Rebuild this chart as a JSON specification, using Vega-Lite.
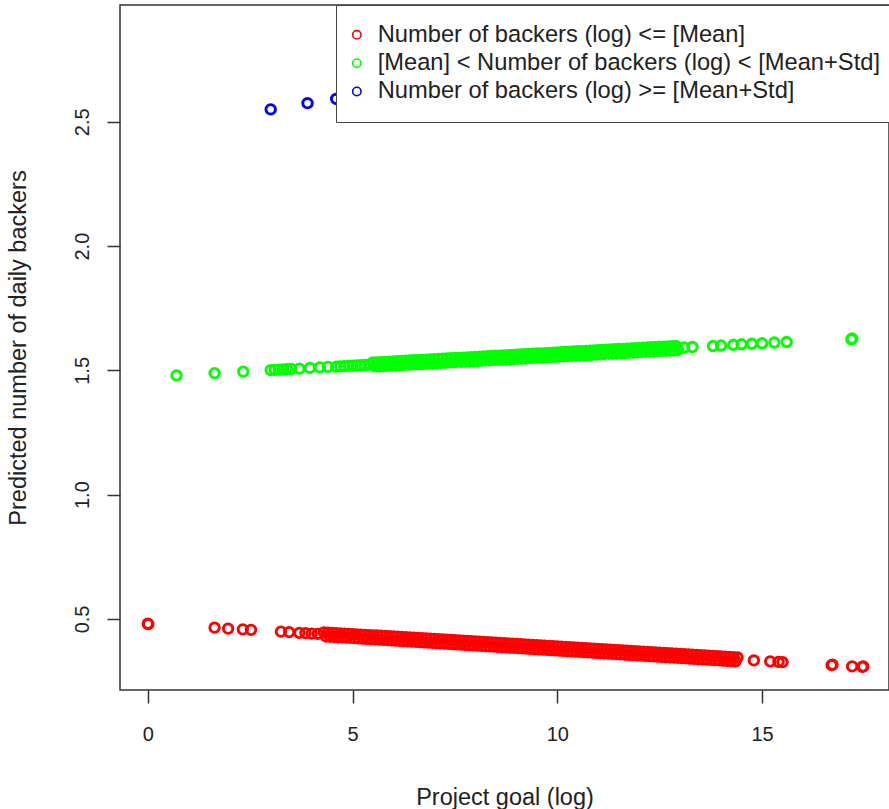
{
  "$schema": "https://vega.github.io/schema/vega-lite/v6.json",
  "width": 769,
  "height": 685,
  "autosize": {"type": "none"},
  "padding": {"left": 120, "top": 5, "right": 0, "bottom": 119},
  "background": "white",
  "config": {
    "view": {"stroke": "#333333", "strokeWidth": 1.5},
    "font": "Liberation Sans"
  },
  "datasets": {
    "groups": [
      {"grp": "low", "label": "Number of backers (log) <= [Mean]"},
      {"grp": "mid", "label": "[Mean] < Number of backers (log) < [Mean+Std]"},
      {"grp": "high", "label": "Number of backers (log) >= [Mean+Std]"}
    ],
    "points": [
      {"goal": 0, "pred": 0.481, "grp": "low"},
      {"goal": 0.01, "pred": 0.479, "grp": "low"},
      {"goal": 1.63, "pred": 0.465, "grp": "low"},
      {"goal": 1.96, "pred": 0.461, "grp": "low"},
      {"goal": 2.32, "pred": 0.458, "grp": "low"},
      {"goal": 2.52, "pred": 0.456, "grp": "low"},
      {"goal": 3.25, "pred": 0.449, "grp": "low"},
      {"goal": 3.45, "pred": 0.447, "grp": "low"},
      {"goal": 3.7, "pred": 0.444, "grp": "low"},
      {"goal": 3.85, "pred": 0.443, "grp": "low"},
      {"goal": 4.0, "pred": 0.441, "grp": "low"},
      {"goal": 4.15, "pred": 0.44, "grp": "low"},
      {"goal": 4.3, "pred": 0.446, "grp": "low"},
      {"goal": 4.4, "pred": 0.445, "grp": "low"},
      {"goal": 4.5, "pred": 0.444, "grp": "low"},
      {"goal": 4.6, "pred": 0.443, "grp": "low"},
      {"goal": 4.7, "pred": 0.442, "grp": "low"},
      {"goal": 4.8, "pred": 0.441, "grp": "low"},
      {"goal": 4.9, "pred": 0.44, "grp": "low"},
      {"goal": 5.0, "pred": 0.439, "grp": "low"},
      {"goal": 5.1, "pred": 0.438, "grp": "low"},
      {"goal": 5.2, "pred": 0.437, "grp": "low"},
      {"goal": 5.3, "pred": 0.436, "grp": "low"},
      {"goal": 5.4, "pred": 0.435, "grp": "low"},
      {"goal": 5.5, "pred": 0.434, "grp": "low"},
      {"goal": 5.6, "pred": 0.433, "grp": "low"},
      {"goal": 5.7, "pred": 0.432, "grp": "low"},
      {"goal": 5.8, "pred": 0.431, "grp": "low"},
      {"goal": 5.9, "pred": 0.43, "grp": "low"},
      {"goal": 6.0, "pred": 0.429, "grp": "low"},
      {"goal": 6.1, "pred": 0.428, "grp": "low"},
      {"goal": 6.2, "pred": 0.427, "grp": "low"},
      {"goal": 6.3, "pred": 0.426, "grp": "low"},
      {"goal": 6.4, "pred": 0.425, "grp": "low"},
      {"goal": 6.5, "pred": 0.424, "grp": "low"},
      {"goal": 6.6, "pred": 0.423, "grp": "low"},
      {"goal": 6.7, "pred": 0.422, "grp": "low"},
      {"goal": 6.8, "pred": 0.421, "grp": "low"},
      {"goal": 6.9, "pred": 0.42, "grp": "low"},
      {"goal": 7.0, "pred": 0.419, "grp": "low"},
      {"goal": 7.1, "pred": 0.418, "grp": "low"},
      {"goal": 7.2, "pred": 0.417, "grp": "low"},
      {"goal": 7.3, "pred": 0.416, "grp": "low"},
      {"goal": 7.4, "pred": 0.415, "grp": "low"},
      {"goal": 7.5, "pred": 0.414, "grp": "low"},
      {"goal": 7.6, "pred": 0.413, "grp": "low"},
      {"goal": 7.7, "pred": 0.412, "grp": "low"},
      {"goal": 7.8, "pred": 0.411, "grp": "low"},
      {"goal": 7.9, "pred": 0.41, "grp": "low"},
      {"goal": 8.0, "pred": 0.409, "grp": "low"},
      {"goal": 8.1, "pred": 0.408, "grp": "low"},
      {"goal": 8.2, "pred": 0.407, "grp": "low"},
      {"goal": 8.3, "pred": 0.406, "grp": "low"},
      {"goal": 8.4, "pred": 0.405, "grp": "low"},
      {"goal": 8.5, "pred": 0.404, "grp": "low"},
      {"goal": 8.6, "pred": 0.403, "grp": "low"},
      {"goal": 8.7, "pred": 0.402, "grp": "low"},
      {"goal": 8.8, "pred": 0.401, "grp": "low"},
      {"goal": 8.9, "pred": 0.4, "grp": "low"},
      {"goal": 9.0, "pred": 0.399, "grp": "low"},
      {"goal": 9.1, "pred": 0.398, "grp": "low"},
      {"goal": 9.2, "pred": 0.397, "grp": "low"},
      {"goal": 9.3, "pred": 0.396, "grp": "low"},
      {"goal": 9.4, "pred": 0.395, "grp": "low"},
      {"goal": 9.5, "pred": 0.394, "grp": "low"},
      {"goal": 9.6, "pred": 0.393, "grp": "low"},
      {"goal": 9.7, "pred": 0.392, "grp": "low"},
      {"goal": 9.8, "pred": 0.391, "grp": "low"},
      {"goal": 9.9, "pred": 0.39, "grp": "low"},
      {"goal": 10.0, "pred": 0.389, "grp": "low"},
      {"goal": 10.1, "pred": 0.388, "grp": "low"},
      {"goal": 10.2, "pred": 0.387, "grp": "low"},
      {"goal": 10.3, "pred": 0.386, "grp": "low"},
      {"goal": 10.4, "pred": 0.385, "grp": "low"},
      {"goal": 10.5, "pred": 0.384, "grp": "low"},
      {"goal": 10.6, "pred": 0.383, "grp": "low"},
      {"goal": 10.7, "pred": 0.382, "grp": "low"},
      {"goal": 10.8, "pred": 0.381, "grp": "low"},
      {"goal": 10.9, "pred": 0.38, "grp": "low"},
      {"goal": 11.0, "pred": 0.379, "grp": "low"},
      {"goal": 11.1, "pred": 0.378, "grp": "low"},
      {"goal": 11.2, "pred": 0.377, "grp": "low"},
      {"goal": 11.3, "pred": 0.376, "grp": "low"},
      {"goal": 11.4, "pred": 0.375, "grp": "low"},
      {"goal": 11.5, "pred": 0.374, "grp": "low"},
      {"goal": 11.6, "pred": 0.373, "grp": "low"},
      {"goal": 11.7, "pred": 0.372, "grp": "low"},
      {"goal": 11.8, "pred": 0.371, "grp": "low"},
      {"goal": 11.9, "pred": 0.37, "grp": "low"},
      {"goal": 12.0, "pred": 0.369, "grp": "low"},
      {"goal": 12.1, "pred": 0.368, "grp": "low"},
      {"goal": 12.2, "pred": 0.367, "grp": "low"},
      {"goal": 12.3, "pred": 0.366, "grp": "low"},
      {"goal": 12.4, "pred": 0.365, "grp": "low"},
      {"goal": 12.5, "pred": 0.364, "grp": "low"},
      {"goal": 12.6, "pred": 0.363, "grp": "low"},
      {"goal": 12.7, "pred": 0.362, "grp": "low"},
      {"goal": 12.8, "pred": 0.361, "grp": "low"},
      {"goal": 12.9, "pred": 0.36, "grp": "low"},
      {"goal": 13.0, "pred": 0.359, "grp": "low"},
      {"goal": 13.1, "pred": 0.358, "grp": "low"},
      {"goal": 13.2, "pred": 0.357, "grp": "low"},
      {"goal": 13.3, "pred": 0.356, "grp": "low"},
      {"goal": 13.4, "pred": 0.355, "grp": "low"},
      {"goal": 13.5, "pred": 0.354, "grp": "low"},
      {"goal": 13.6, "pred": 0.353, "grp": "low"},
      {"goal": 13.7, "pred": 0.352, "grp": "low"},
      {"goal": 13.8, "pred": 0.351, "grp": "low"},
      {"goal": 13.9, "pred": 0.35, "grp": "low"},
      {"goal": 14.0, "pred": 0.349, "grp": "low"},
      {"goal": 14.1, "pred": 0.348, "grp": "low"},
      {"goal": 14.2, "pred": 0.347, "grp": "low"},
      {"goal": 14.3, "pred": 0.346, "grp": "low"},
      {"goal": 14.4, "pred": 0.345, "grp": "low"},
      {"goal": 4.35, "pred": 0.4295, "grp": "low"},
      {"goal": 4.45, "pred": 0.4285, "grp": "low"},
      {"goal": 4.55, "pred": 0.4275, "grp": "low"},
      {"goal": 4.65, "pred": 0.4265, "grp": "low"},
      {"goal": 4.75, "pred": 0.4255, "grp": "low"},
      {"goal": 4.85, "pred": 0.4245, "grp": "low"},
      {"goal": 4.95, "pred": 0.4235, "grp": "low"},
      {"goal": 5.05, "pred": 0.4225, "grp": "low"},
      {"goal": 5.15, "pred": 0.4215, "grp": "low"},
      {"goal": 5.25, "pred": 0.4205, "grp": "low"},
      {"goal": 5.35, "pred": 0.4195, "grp": "low"},
      {"goal": 5.45, "pred": 0.4185, "grp": "low"},
      {"goal": 5.55, "pred": 0.4175, "grp": "low"},
      {"goal": 5.65, "pred": 0.4165, "grp": "low"},
      {"goal": 5.75, "pred": 0.4155, "grp": "low"},
      {"goal": 5.85, "pred": 0.4145, "grp": "low"},
      {"goal": 5.95, "pred": 0.4135, "grp": "low"},
      {"goal": 6.05, "pred": 0.4125, "grp": "low"},
      {"goal": 6.15, "pred": 0.4115, "grp": "low"},
      {"goal": 6.25, "pred": 0.4105, "grp": "low"},
      {"goal": 6.35, "pred": 0.4095, "grp": "low"},
      {"goal": 6.45, "pred": 0.4085, "grp": "low"},
      {"goal": 6.55, "pred": 0.4075, "grp": "low"},
      {"goal": 6.65, "pred": 0.4065, "grp": "low"},
      {"goal": 6.75, "pred": 0.4055, "grp": "low"},
      {"goal": 6.85, "pred": 0.4045, "grp": "low"},
      {"goal": 6.95, "pred": 0.4035, "grp": "low"},
      {"goal": 7.05, "pred": 0.4025, "grp": "low"},
      {"goal": 7.15, "pred": 0.4015, "grp": "low"},
      {"goal": 7.25, "pred": 0.4005, "grp": "low"},
      {"goal": 7.35, "pred": 0.3995, "grp": "low"},
      {"goal": 7.45, "pred": 0.3985, "grp": "low"},
      {"goal": 7.55, "pred": 0.3975, "grp": "low"},
      {"goal": 7.65, "pred": 0.3965, "grp": "low"},
      {"goal": 7.75, "pred": 0.3955, "grp": "low"},
      {"goal": 7.85, "pred": 0.3945, "grp": "low"},
      {"goal": 7.95, "pred": 0.3935, "grp": "low"},
      {"goal": 8.05, "pred": 0.3925, "grp": "low"},
      {"goal": 8.15, "pred": 0.3915, "grp": "low"},
      {"goal": 8.25, "pred": 0.3905, "grp": "low"},
      {"goal": 8.35, "pred": 0.3895, "grp": "low"},
      {"goal": 8.45, "pred": 0.3885, "grp": "low"},
      {"goal": 8.55, "pred": 0.3875, "grp": "low"},
      {"goal": 8.65, "pred": 0.3865, "grp": "low"},
      {"goal": 8.75, "pred": 0.3855, "grp": "low"},
      {"goal": 8.85, "pred": 0.3845, "grp": "low"},
      {"goal": 8.95, "pred": 0.3835, "grp": "low"},
      {"goal": 9.05, "pred": 0.3825, "grp": "low"},
      {"goal": 9.15, "pred": 0.3815, "grp": "low"},
      {"goal": 9.25, "pred": 0.3805, "grp": "low"},
      {"goal": 9.35, "pred": 0.3795, "grp": "low"},
      {"goal": 9.45, "pred": 0.3785, "grp": "low"},
      {"goal": 9.55, "pred": 0.3775, "grp": "low"},
      {"goal": 9.65, "pred": 0.3765, "grp": "low"},
      {"goal": 9.75, "pred": 0.3755, "grp": "low"},
      {"goal": 9.85, "pred": 0.3745, "grp": "low"},
      {"goal": 9.95, "pred": 0.3735, "grp": "low"},
      {"goal": 10.05, "pred": 0.3725, "grp": "low"},
      {"goal": 10.15, "pred": 0.3715, "grp": "low"},
      {"goal": 10.25, "pred": 0.3705, "grp": "low"},
      {"goal": 10.35, "pred": 0.3695, "grp": "low"},
      {"goal": 10.45, "pred": 0.3685, "grp": "low"},
      {"goal": 10.55, "pred": 0.3675, "grp": "low"},
      {"goal": 10.65, "pred": 0.3665, "grp": "low"},
      {"goal": 10.75, "pred": 0.3655, "grp": "low"},
      {"goal": 10.85, "pred": 0.3645, "grp": "low"},
      {"goal": 10.95, "pred": 0.3635, "grp": "low"},
      {"goal": 11.05, "pred": 0.3625, "grp": "low"},
      {"goal": 11.15, "pred": 0.3615, "grp": "low"},
      {"goal": 11.25, "pred": 0.3605, "grp": "low"},
      {"goal": 11.35, "pred": 0.3595, "grp": "low"},
      {"goal": 11.45, "pred": 0.3585, "grp": "low"},
      {"goal": 11.55, "pred": 0.3575, "grp": "low"},
      {"goal": 11.65, "pred": 0.3565, "grp": "low"},
      {"goal": 11.75, "pred": 0.3555, "grp": "low"},
      {"goal": 11.85, "pred": 0.3545, "grp": "low"},
      {"goal": 11.95, "pred": 0.3535, "grp": "low"},
      {"goal": 12.05, "pred": 0.3525, "grp": "low"},
      {"goal": 12.15, "pred": 0.3515, "grp": "low"},
      {"goal": 12.25, "pred": 0.3505, "grp": "low"},
      {"goal": 12.35, "pred": 0.3495, "grp": "low"},
      {"goal": 12.45, "pred": 0.3485, "grp": "low"},
      {"goal": 12.55, "pred": 0.3475, "grp": "low"},
      {"goal": 12.65, "pred": 0.3465, "grp": "low"},
      {"goal": 12.75, "pred": 0.3455, "grp": "low"},
      {"goal": 12.85, "pred": 0.3445, "grp": "low"},
      {"goal": 12.95, "pred": 0.3435, "grp": "low"},
      {"goal": 13.05, "pred": 0.3425, "grp": "low"},
      {"goal": 13.15, "pred": 0.3415, "grp": "low"},
      {"goal": 13.25, "pred": 0.3405, "grp": "low"},
      {"goal": 13.35, "pred": 0.3395, "grp": "low"},
      {"goal": 13.45, "pred": 0.3385, "grp": "low"},
      {"goal": 13.55, "pred": 0.3375, "grp": "low"},
      {"goal": 13.65, "pred": 0.3365, "grp": "low"},
      {"goal": 13.75, "pred": 0.3355, "grp": "low"},
      {"goal": 13.85, "pred": 0.3345, "grp": "low"},
      {"goal": 13.95, "pred": 0.3335, "grp": "low"},
      {"goal": 14.05, "pred": 0.3325, "grp": "low"},
      {"goal": 14.15, "pred": 0.3315, "grp": "low"},
      {"goal": 14.25, "pred": 0.3305, "grp": "low"},
      {"goal": 14.35, "pred": 0.3295, "grp": "low"},
      {"goal": 14.8, "pred": 0.333, "grp": "low"},
      {"goal": 15.2, "pred": 0.329, "grp": "low"},
      {"goal": 15.4, "pred": 0.327, "grp": "low"},
      {"goal": 15.5, "pred": 0.326, "grp": "low"},
      {"goal": 16.7, "pred": 0.314, "grp": "low"},
      {"goal": 16.72, "pred": 0.316, "grp": "low"},
      {"goal": 17.2, "pred": 0.309, "grp": "low"},
      {"goal": 17.45, "pred": 0.307, "grp": "low"},
      {"goal": 17.47, "pred": 0.309, "grp": "low"},
      {"goal": 0.7, "pred": 1.48, "grp": "mid"},
      {"goal": 1.63, "pred": 1.489, "grp": "mid"},
      {"goal": 2.33, "pred": 1.495, "grp": "mid"},
      {"goal": 3.0, "pred": 1.501, "grp": "mid"},
      {"goal": 3.1, "pred": 1.502, "grp": "mid"},
      {"goal": 3.2, "pred": 1.503, "grp": "mid"},
      {"goal": 3.3, "pred": 1.504, "grp": "mid"},
      {"goal": 3.4, "pred": 1.505, "grp": "mid"},
      {"goal": 3.5, "pred": 1.506, "grp": "mid"},
      {"goal": 3.7, "pred": 1.507, "grp": "mid"},
      {"goal": 3.96, "pred": 1.51, "grp": "mid"},
      {"goal": 4.2, "pred": 1.512, "grp": "mid"},
      {"goal": 4.4, "pred": 1.514, "grp": "mid"},
      {"goal": 4.6, "pred": 1.515, "grp": "mid"},
      {"goal": 4.7, "pred": 1.516, "grp": "mid"},
      {"goal": 4.8, "pred": 1.517, "grp": "mid"},
      {"goal": 4.9, "pred": 1.518, "grp": "mid"},
      {"goal": 5.0, "pred": 1.519, "grp": "mid"},
      {"goal": 5.1, "pred": 1.52, "grp": "mid"},
      {"goal": 5.2, "pred": 1.521, "grp": "mid"},
      {"goal": 5.3, "pred": 1.522, "grp": "mid"},
      {"goal": 5.4, "pred": 1.523, "grp": "mid"},
      {"goal": 5.5, "pred": 1.532, "grp": "mid"},
      {"goal": 5.6, "pred": 1.532, "grp": "mid"},
      {"goal": 5.7, "pred": 1.533, "grp": "mid"},
      {"goal": 5.8, "pred": 1.534, "grp": "mid"},
      {"goal": 5.9, "pred": 1.535, "grp": "mid"},
      {"goal": 6.0, "pred": 1.536, "grp": "mid"},
      {"goal": 6.1, "pred": 1.537, "grp": "mid"},
      {"goal": 6.2, "pred": 1.538, "grp": "mid"},
      {"goal": 6.3, "pred": 1.539, "grp": "mid"},
      {"goal": 6.4, "pred": 1.54, "grp": "mid"},
      {"goal": 6.5, "pred": 1.541, "grp": "mid"},
      {"goal": 6.6, "pred": 1.541, "grp": "mid"},
      {"goal": 6.7, "pred": 1.542, "grp": "mid"},
      {"goal": 6.8, "pred": 1.543, "grp": "mid"},
      {"goal": 6.9, "pred": 1.544, "grp": "mid"},
      {"goal": 7.0, "pred": 1.545, "grp": "mid"},
      {"goal": 7.1, "pred": 1.546, "grp": "mid"},
      {"goal": 7.2, "pred": 1.547, "grp": "mid"},
      {"goal": 7.3, "pred": 1.548, "grp": "mid"},
      {"goal": 7.4, "pred": 1.549, "grp": "mid"},
      {"goal": 7.5, "pred": 1.55, "grp": "mid"},
      {"goal": 7.6, "pred": 1.55, "grp": "mid"},
      {"goal": 7.7, "pred": 1.551, "grp": "mid"},
      {"goal": 7.8, "pred": 1.552, "grp": "mid"},
      {"goal": 7.9, "pred": 1.553, "grp": "mid"},
      {"goal": 8.0, "pred": 1.554, "grp": "mid"},
      {"goal": 8.1, "pred": 1.555, "grp": "mid"},
      {"goal": 8.2, "pred": 1.556, "grp": "mid"},
      {"goal": 8.3, "pred": 1.557, "grp": "mid"},
      {"goal": 8.4, "pred": 1.558, "grp": "mid"},
      {"goal": 8.5, "pred": 1.559, "grp": "mid"},
      {"goal": 8.6, "pred": 1.559, "grp": "mid"},
      {"goal": 8.7, "pred": 1.56, "grp": "mid"},
      {"goal": 8.8, "pred": 1.561, "grp": "mid"},
      {"goal": 8.9, "pred": 1.562, "grp": "mid"},
      {"goal": 9.0, "pred": 1.563, "grp": "mid"},
      {"goal": 9.1, "pred": 1.564, "grp": "mid"},
      {"goal": 9.2, "pred": 1.565, "grp": "mid"},
      {"goal": 9.3, "pred": 1.566, "grp": "mid"},
      {"goal": 9.4, "pred": 1.567, "grp": "mid"},
      {"goal": 9.5, "pred": 1.568, "grp": "mid"},
      {"goal": 9.6, "pred": 1.568, "grp": "mid"},
      {"goal": 9.7, "pred": 1.569, "grp": "mid"},
      {"goal": 9.8, "pred": 1.57, "grp": "mid"},
      {"goal": 9.9, "pred": 1.571, "grp": "mid"},
      {"goal": 10.0, "pred": 1.572, "grp": "mid"},
      {"goal": 10.1, "pred": 1.573, "grp": "mid"},
      {"goal": 10.2, "pred": 1.574, "grp": "mid"},
      {"goal": 10.3, "pred": 1.575, "grp": "mid"},
      {"goal": 10.4, "pred": 1.576, "grp": "mid"},
      {"goal": 10.5, "pred": 1.577, "grp": "mid"},
      {"goal": 10.6, "pred": 1.577, "grp": "mid"},
      {"goal": 10.7, "pred": 1.578, "grp": "mid"},
      {"goal": 10.8, "pred": 1.579, "grp": "mid"},
      {"goal": 10.9, "pred": 1.58, "grp": "mid"},
      {"goal": 11.0, "pred": 1.581, "grp": "mid"},
      {"goal": 11.1, "pred": 1.582, "grp": "mid"},
      {"goal": 11.2, "pred": 1.583, "grp": "mid"},
      {"goal": 11.3, "pred": 1.584, "grp": "mid"},
      {"goal": 11.4, "pred": 1.585, "grp": "mid"},
      {"goal": 11.5, "pred": 1.586, "grp": "mid"},
      {"goal": 11.6, "pred": 1.586, "grp": "mid"},
      {"goal": 11.7, "pred": 1.587, "grp": "mid"},
      {"goal": 11.8, "pred": 1.588, "grp": "mid"},
      {"goal": 11.9, "pred": 1.589, "grp": "mid"},
      {"goal": 12.0, "pred": 1.59, "grp": "mid"},
      {"goal": 12.1, "pred": 1.591, "grp": "mid"},
      {"goal": 12.2, "pred": 1.592, "grp": "mid"},
      {"goal": 12.3, "pred": 1.593, "grp": "mid"},
      {"goal": 12.4, "pred": 1.594, "grp": "mid"},
      {"goal": 12.5, "pred": 1.595, "grp": "mid"},
      {"goal": 12.6, "pred": 1.595, "grp": "mid"},
      {"goal": 12.7, "pred": 1.596, "grp": "mid"},
      {"goal": 12.8, "pred": 1.597, "grp": "mid"},
      {"goal": 12.9, "pred": 1.598, "grp": "mid"},
      {"goal": 5.55, "pred": 1.516, "grp": "mid"},
      {"goal": 5.65, "pred": 1.516, "grp": "mid"},
      {"goal": 5.75, "pred": 1.517, "grp": "mid"},
      {"goal": 5.85, "pred": 1.518, "grp": "mid"},
      {"goal": 5.95, "pred": 1.519, "grp": "mid"},
      {"goal": 6.05, "pred": 1.52, "grp": "mid"},
      {"goal": 6.15, "pred": 1.521, "grp": "mid"},
      {"goal": 6.25, "pred": 1.522, "grp": "mid"},
      {"goal": 6.35, "pred": 1.523, "grp": "mid"},
      {"goal": 6.45, "pred": 1.524, "grp": "mid"},
      {"goal": 6.55, "pred": 1.525, "grp": "mid"},
      {"goal": 6.65, "pred": 1.525, "grp": "mid"},
      {"goal": 6.75, "pred": 1.526, "grp": "mid"},
      {"goal": 6.85, "pred": 1.527, "grp": "mid"},
      {"goal": 6.95, "pred": 1.528, "grp": "mid"},
      {"goal": 7.05, "pred": 1.529, "grp": "mid"},
      {"goal": 7.15, "pred": 1.53, "grp": "mid"},
      {"goal": 7.25, "pred": 1.531, "grp": "mid"},
      {"goal": 7.35, "pred": 1.532, "grp": "mid"},
      {"goal": 7.45, "pred": 1.533, "grp": "mid"},
      {"goal": 7.55, "pred": 1.534, "grp": "mid"},
      {"goal": 7.65, "pred": 1.534, "grp": "mid"},
      {"goal": 7.75, "pred": 1.535, "grp": "mid"},
      {"goal": 7.85, "pred": 1.536, "grp": "mid"},
      {"goal": 7.95, "pred": 1.537, "grp": "mid"},
      {"goal": 8.05, "pred": 1.538, "grp": "mid"},
      {"goal": 8.15, "pred": 1.539, "grp": "mid"},
      {"goal": 8.25, "pred": 1.54, "grp": "mid"},
      {"goal": 8.35, "pred": 1.541, "grp": "mid"},
      {"goal": 8.45, "pred": 1.542, "grp": "mid"},
      {"goal": 8.55, "pred": 1.543, "grp": "mid"},
      {"goal": 8.65, "pred": 1.543, "grp": "mid"},
      {"goal": 8.75, "pred": 1.544, "grp": "mid"},
      {"goal": 8.85, "pred": 1.545, "grp": "mid"},
      {"goal": 8.95, "pred": 1.546, "grp": "mid"},
      {"goal": 9.05, "pred": 1.547, "grp": "mid"},
      {"goal": 9.15, "pred": 1.548, "grp": "mid"},
      {"goal": 9.25, "pred": 1.549, "grp": "mid"},
      {"goal": 9.35, "pred": 1.55, "grp": "mid"},
      {"goal": 9.45, "pred": 1.551, "grp": "mid"},
      {"goal": 9.55, "pred": 1.552, "grp": "mid"},
      {"goal": 9.65, "pred": 1.552, "grp": "mid"},
      {"goal": 9.75, "pred": 1.553, "grp": "mid"},
      {"goal": 9.85, "pred": 1.554, "grp": "mid"},
      {"goal": 9.95, "pred": 1.555, "grp": "mid"},
      {"goal": 10.05, "pred": 1.556, "grp": "mid"},
      {"goal": 10.15, "pred": 1.557, "grp": "mid"},
      {"goal": 10.25, "pred": 1.558, "grp": "mid"},
      {"goal": 10.35, "pred": 1.559, "grp": "mid"},
      {"goal": 10.45, "pred": 1.56, "grp": "mid"},
      {"goal": 10.55, "pred": 1.561, "grp": "mid"},
      {"goal": 10.65, "pred": 1.561, "grp": "mid"},
      {"goal": 10.75, "pred": 1.562, "grp": "mid"},
      {"goal": 10.85, "pred": 1.563, "grp": "mid"},
      {"goal": 10.95, "pred": 1.564, "grp": "mid"},
      {"goal": 11.05, "pred": 1.565, "grp": "mid"},
      {"goal": 11.15, "pred": 1.566, "grp": "mid"},
      {"goal": 11.25, "pred": 1.567, "grp": "mid"},
      {"goal": 11.35, "pred": 1.568, "grp": "mid"},
      {"goal": 11.45, "pred": 1.569, "grp": "mid"},
      {"goal": 11.55, "pred": 1.57, "grp": "mid"},
      {"goal": 11.65, "pred": 1.57, "grp": "mid"},
      {"goal": 11.75, "pred": 1.571, "grp": "mid"},
      {"goal": 11.85, "pred": 1.572, "grp": "mid"},
      {"goal": 11.95, "pred": 1.573, "grp": "mid"},
      {"goal": 12.05, "pred": 1.574, "grp": "mid"},
      {"goal": 12.15, "pred": 1.575, "grp": "mid"},
      {"goal": 12.25, "pred": 1.576, "grp": "mid"},
      {"goal": 12.35, "pred": 1.577, "grp": "mid"},
      {"goal": 12.45, "pred": 1.578, "grp": "mid"},
      {"goal": 12.55, "pred": 1.579, "grp": "mid"},
      {"goal": 12.65, "pred": 1.579, "grp": "mid"},
      {"goal": 12.75, "pred": 1.58, "grp": "mid"},
      {"goal": 12.85, "pred": 1.581, "grp": "mid"},
      {"goal": 12.95, "pred": 1.582, "grp": "mid"},
      {"goal": 13.1, "pred": 1.592, "grp": "mid"},
      {"goal": 13.3, "pred": 1.594, "grp": "mid"},
      {"goal": 13.8, "pred": 1.598, "grp": "mid"},
      {"goal": 14.0, "pred": 1.6, "grp": "mid"},
      {"goal": 14.3, "pred": 1.603, "grp": "mid"},
      {"goal": 14.5, "pred": 1.605, "grp": "mid"},
      {"goal": 14.75, "pred": 1.607, "grp": "mid"},
      {"goal": 15.0, "pred": 1.609, "grp": "mid"},
      {"goal": 15.3, "pred": 1.612, "grp": "mid"},
      {"goal": 15.6, "pred": 1.614, "grp": "mid"},
      {"goal": 17.18, "pred": 1.625, "grp": "mid"},
      {"goal": 17.2, "pred": 1.628, "grp": "mid"},
      {"goal": 3.0, "pred": 2.55, "grp": "high"},
      {"goal": 3.9, "pred": 2.575, "grp": "high"},
      {"goal": 4.6, "pred": 2.592, "grp": "high"},
      {"goal": 5.5, "pred": 2.61, "grp": "high"},
      {"goal": 7.0, "pred": 2.64, "grp": "high"},
      {"goal": 9.0, "pred": 2.69, "grp": "high"},
      {"goal": 11.0, "pred": 2.73, "grp": "high"},
      {"goal": 13.0, "pred": 2.78, "grp": "high"},
      {"goal": 15.0, "pred": 2.82, "grp": "high"},
      {"goal": 17.0, "pred": 2.87, "grp": "high"}
    ]
  },
  "data": {"name": "points"},
  "transform": [
    {"lookup": "grp", "from": {"data": {"name": "groups"}, "key": "grp", "fields": ["label"]}}
  ],
  "mark": {"type": "point", "shape": "circle", "filled": false, "size": 90, "strokeWidth": 2.9, "opacity": 1},
  "encoding": {
    "x": {
      "field": "goal", "type": "quantitative",
      "scale": {"domain": [-0.68, 18.1], "nice": false, "zero": false},
      "axis": {
        "title": "Project goal (log)", "values": [0, 5, 10, 15], "format": "d",
        "grid": false, "domain": false,
        "tickSize": 13, "tickColor": "#333333", "tickWidth": 1.5,
        "labelFont": "Liberation Sans", "labelFontSize": 20, "labelColor": "#222222", "labelPadding": 21,
        "titleFont": "Liberation Sans", "titleFontSize": 23.5, "titleFontWeight": "normal", "titleColor": "#222222", "titlePadding": 41
      }
    },
    "y": {
      "field": "pred", "type": "quantitative",
      "scale": {"domain": [0.214, 2.97], "nice": false, "zero": false},
      "axis": {
        "title": "Predicted number of daily backers", "values": [0.5, 1, 1.5, 2, 2.5], "format": ".1f",
        "grid": false, "domain": false,
        "tickSize": 13, "tickColor": "#333333", "tickWidth": 1.5,
        "labelAngle": -90, "labelAlign": "center", "labelBaseline": "bottom",
        "labelFont": "Liberation Sans", "labelFontSize": 20, "labelColor": "#222222", "labelPadding": 15,
        "titleFont": "Liberation Sans", "titleFontSize": 23.5, "titleFontWeight": "normal", "titleColor": "#222222", "titlePadding": 42
      }
    },
    "color": {
      "field": "label", "type": "nominal",
      "scale": {
        "domain": ["Number of backers (log) <= [Mean]", "[Mean] < Number of backers (log) < [Mean+Std]", "Number of backers (log) >= [Mean+Std]"],
        "range": ["#FF0000", "#00FF00", "#0000FF"]
      },
      "legend": {
        "title": null, "orient": "none", "legendX": 216, "legendY": 0,
        "padding": 18, "fillColor": "white", "strokeColor": "#444444",
        "symbolType": "circle", "symbolSize": 70, "symbolStrokeWidth": 1.6, "symbolFillColor": "transparent",
        "symbolOffset": -9,
        "labelFont": "Liberation Sans", "labelFontSize": 23.7, "labelColor": "#222222", "labelOffset": 9,
        "labelLimit": 700, "rowPadding": 3.3, "zindex": 1
      }
    }
  }
}
